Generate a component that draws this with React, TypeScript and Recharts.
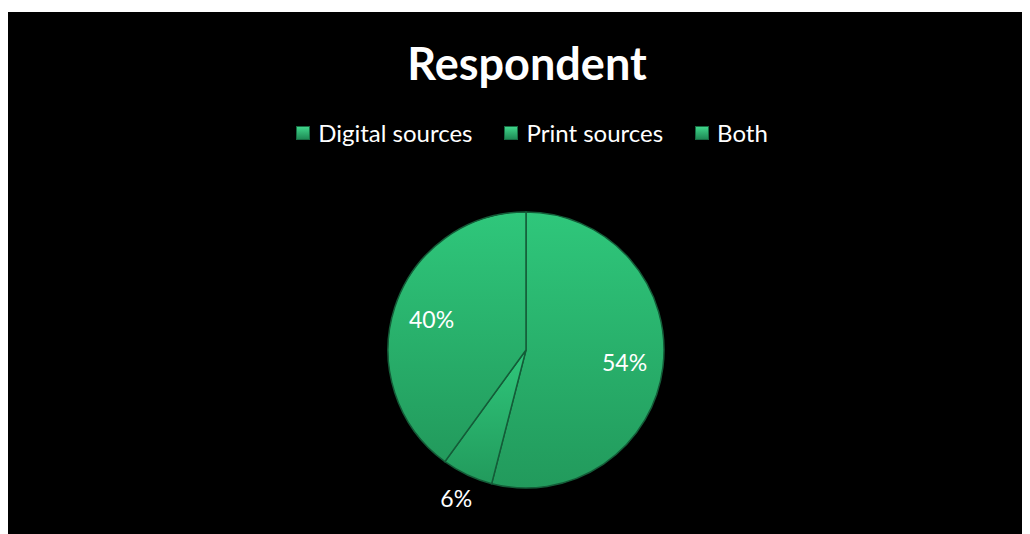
import { PieChart, Pie, Cell } from 'recharts'

const categories = ['Digital sources', 'Print sources', 'Both']
const shares = [54, 6, 40]

const data = categories.map((name, i) => ({ name, value: shares[i] }))
const RAD = Math.PI / 180

function renderLabel(props: any) {
  const { cx, cy, midAngle, outerRadius, index, value } = props
  const small = value < 10
  const r = small ? outerRadius + 26 : outerRadius * 0.72
  const x = cx + r * Math.cos(-midAngle * RAD)
  const y = cy + r * Math.sin(-midAngle * RAD)
  return (
    <text key={index} x={x} y={y} fill="#fff" fontSize={23} fontFamily="Lato, sans-serif" textAnchor="middle" dominantBaseline="central">
      {value}%
    </text>
  )
}

export default function App() {
  return (
    <div style={{ marginTop: 4, width: 1022, height: 522, background: '#000', position: 'relative' }}>
      <div style={{ position: 'absolute', top: 24, left: 8, width: 1022, textAlign: 'center', color: '#fff', fontFamily: 'Lato, sans-serif', fontWeight: 700, fontSize: 45 }}>
        Respondent
      </div>
      <div style={{ position: 'absolute', top: 106, left: 13, width: 1022, display: 'flex', justifyContent: 'center', gap: 32, fontFamily: 'Lato, sans-serif', fontSize: 24, color: '#fff' }}>
        {categories.map((c) => (
          <span key={c} style={{ display: 'flex', alignItems: 'center' }}>
            <span style={{ width: 12, height: 12, marginRight: 8, background: 'linear-gradient(#3fd58a, #1f8a55)', border: '1px solid #176b42' }} />
            {c}
          </span>
        ))}
      </div>
      <PieChart width={1022} height={522} margin={{ top: 0, right: 0, bottom: 0, left: 0 }} style={{ position: 'absolute', top: 0, left: 0 }}>
        <defs>
          <linearGradient id="g" x1="0" y1="0" x2="0" y2="1">
            <stop offset="0%" stopColor="#2fc77b" />
            <stop offset="100%" stopColor="#229a5c" />
          </linearGradient>
        </defs>
        <Pie
          data={data}
          dataKey="value"
          nameKey="name"
          cx={518}
          cy={338}
          outerRadius={138}
          startAngle={90}
          endAngle={-270}
          stroke="#145c38"
          strokeWidth={1.5}
          label={renderLabel}
          labelLine={false}
          isAnimationActive={false}
        >
          {data.map((d) => (
            <Cell key={d.name} fill="url(#g)" />
          ))}
        </Pie>
      </PieChart>
    </div>
  )
}
